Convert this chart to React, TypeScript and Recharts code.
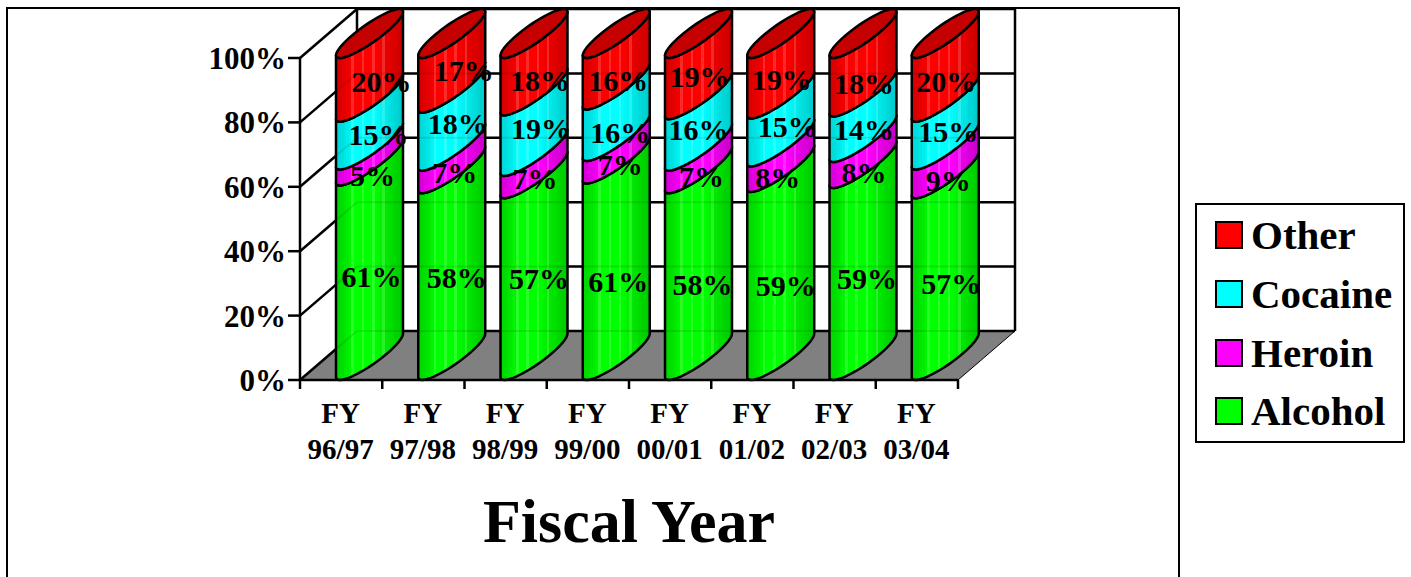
import {
  BarChart,
  Bar,
  XAxis,
  YAxis,
  CartesianGrid,
  Legend,
  LabelList,
  Label,
  ReferenceLine,
} from "recharts";

const YEARS = ["FY 96/97", "FY 97/98", "FY 98/99", "FY 99/00", "FY 00/01", "FY 01/02", "FY 02/03", "FY 03/04"];
const ALCOHOL = [61, 58, 57, 61, 58, 59, 59, 57];
const HEROIN = [5, 7, 7, 7, 7, 8, 8, 9];
const COCAINE = [15, 18, 19, 16, 16, 15, 14, 15];
const OTHER = [20, 17, 18, 16, 19, 19, 18, 20];
const Y_TICKS = [0, 0.2, 0.4, 0.6, 0.8, 1];
const LEGEND_ORDER = ["Other", "Cocaine", "Heroin", "Alcohol"];

const chartData = YEARS.map((name, i) => ({
  name,
  Alcohol: ALCOHOL[i],
  Heroin: HEROIN[i],
  Cocaine: COCAINE[i],
  Other: OTHER[i],
}));

// layout of the fake 3D box
const PLOT = { left: 300, top: 58, width: 658, height: 322 };
const DEPTH_X = 57;
const DEPTH_Y = 49;
const BAND = PLOT.width / YEARS.length;
const SKEW = (27 * Math.PI) / 180;
const LINE = 2.5;
const FONT = "'Liberation Serif', 'Times New Roman', serif";

const SERIES_RGB: Record<string, [number, number, number]> = {
  Alcohol: [0, 255, 0],
  Heroin: [255, 0, 255],
  Cocaine: [0, 255, 255],
  Other: [255, 0, 0],
};

// brightness of the vertical facets, left to right
const FACETS = [
  0.84, 0.86, 0.88, 0.9, 0.93, 0.96, 0.98, 1, 1, 1, 1, 1, 1, 1, 1, 0.99, 0.97, 0.95, 0.93, 0.91, 0.89, 0.87, 0.85,
  0.83, 0.81, 0.79,
];

// label offsets from the middle of each segment, picked by eye [dx, dy]
const NUDGE: Record<string, [number, number][]> = {
  Alcohol: [[2, -6], [5, -9], [5, -11], [2, 0], [4, -2], [5, 0], [4, -6], [6, -6]],
  Heroin: [[3, -2], [3, -9], [1, -9], [4, -8], [3, -5], [-3, -2], [1, -3], [3, -3]],
  Cocaine: [[9, -11], [6, -18], [7, -17], [4, -3], [0, -15], [7, -16], [1, -10], [3, -14]],
  Other: [[12, -8], [12, -15], [6, -6], [2, -3], [1, -12], [1, -9], [1, -4], [1, -8]],
};

function facetColor(rgb: number[], shade: number, light: boolean) {
  const mix = light ? 0.16 : 0;
  const [r, g, b] = rgb.map((c) => Math.round(c * shade + (255 - c * shade) * mix));
  return `rgb(${r},${g},${b})`;
}

function FacetGradient({ name }: { name: string }) {
  const rgb = SERIES_RGB[name];
  const n = FACETS.length;
  return (
    <linearGradient id={`facet-${name}`} x1="0" y1="0" x2="1" y2="0">
      {FACETS.flatMap((shade, i) => {
        const light = i % 4 === 2 && i > 4 && i < 20;
        const color = facetColor(rgb, shade, light);
        return [
          <stop key={`${i}a`} offset={i / n} stopColor={color} />,
          <stop key={`${i}b`} offset={(i + 1) / n} stopColor={color} />,
        ];
      })}
    </linearGradient>
  );
}

// one edge of the sheared ellipse, sampled from angle a to angle b
function rimPoints(x: number, width: number, yFront: number, a: number, b: number) {
  const halfW = (width + DEPTH_X) / 2;
  const halfH = DEPTH_Y / 2;
  const cx = x + halfW;
  const pts: string[] = [];
  for (let i = 0; i <= 28; i++) {
    const t = a + ((b - a) * i) / 28;
    const px = cx - halfW * Math.cos(t);
    const py = yFront - halfH + halfH * Math.cos(t - SKEW);
    pts.push(`${px.toFixed(2)} ${py.toFixed(2)}`);
  }
  return pts;
}

function CylinderSegment(props: any) {
  const { x, y, width, height, name, capped } = props;
  const lower = rimPoints(x, width, y + height, 0, Math.PI);
  const upper = rimPoints(x, width, y, Math.PI, 0);
  const body = `M${lower.join("L")}L${upper.join("L")}Z`;
  const capBack = rimPoints(x, width, y, Math.PI, 2 * Math.PI);
  const cap = `M${rimPoints(x, width, y, 0, Math.PI).join("L")}L${capBack.join("L")}Z`;
  return (
    <g>
      <path d={body} fill={`url(#facet-${name})`} stroke="#000" strokeWidth={LINE} strokeLinejoin="round" />
      {capped && <path d={cap} fill="#c40000" stroke="#000" strokeWidth={LINE} strokeLinejoin="round" />}
    </g>
  );
}

function segmentLabel(name: string, values: number[]) {
  return (props: any) => {
    const { x, y, width, height, index } = props;
    const [dx, dy] = NUDGE[name][index];
    return (
      <text
        x={x + (width + DEPTH_X) / 2 + dx}
        y={y + height / 2 + dy}
        textAnchor="middle"
        dominantBaseline="central"
        fontFamily={FONT}
        fontWeight="bold"
        fontSize={30}
        fill="#000"
      >
        {values[index]}%
      </text>
    );
  };
}

function WallLine(props: any) {
  const { x1, y1, x2, y2 } = props;
  const isFloor = Math.abs(y1 - (PLOT.top + PLOT.height)) < 1;
  const backY = y1 - DEPTH_Y;
  return (
    <g>
      {isFloor && (
        <g>
          <polygon
            points={`${x1},${y1} ${x2},${y1} ${x2 + DEPTH_X},${backY} ${x1 + DEPTH_X},${backY}`}
            fill="#808080"
            stroke="#000"
            strokeWidth={1}
          />
          <line x1={x1 + DEPTH_X} y1={backY} x2={x1 + DEPTH_X} y2={PLOT.top - DEPTH_Y} stroke="#000" strokeWidth={LINE} />
          <line x1={x2 + DEPTH_X} y1={backY} x2={x2 + DEPTH_X} y2={PLOT.top - DEPTH_Y} stroke="#000" strokeWidth={LINE} />
        </g>
      )}
      <line x1={x1} y1={y1} x2={x1 + DEPTH_X} y2={backY} stroke="#000" strokeWidth={LINE} />
      <line x1={x1 + DEPTH_X} y1={backY} x2={x2 + DEPTH_X} y2={y2 - DEPTH_Y} stroke="#000" strokeWidth={LINE} />
    </g>
  );
}

// the gridlines show very faintly through the cylinders in the original
function GhostLine(props: any) {
  const { x1, y1, x2, y2 } = props;
  const backY = y1 - DEPTH_Y;
  return (
    <g stroke="#000" strokeOpacity={0.1} strokeWidth={2}>
      <line x1={x1} y1={y1} x2={x1 + DEPTH_X} y2={backY} />
      <line x1={x1 + DEPTH_X} y1={backY} x2={x2 + DEPTH_X} y2={y2 - DEPTH_Y} />
    </g>
  );
}

function YearTick(props: any) {
  const { x, payload, index } = props;
  const [fy, span] = String(payload.value).split(" ");
  const left = x - BAND / 2;
  const tickTop = PLOT.top + PLOT.height;
  return (
    <g>
      <line x1={left} y1={tickTop} x2={left} y2={tickTop + 9} stroke="#000" strokeWidth={LINE} />
      {index === YEARS.length - 1 && (
        <line x1={left + BAND} y1={tickTop} x2={left + BAND} y2={tickTop + 9} stroke="#000" strokeWidth={LINE} />
      )}
      <text textAnchor="middle" fontFamily={FONT} fontWeight="bold" fontSize={29} fill="#000">
        <tspan x={x - 0.5} y={tickTop + 43}>{fy}</tspan>
        <tspan x={x - 0.5} y={tickTop + 79}>{span}</tspan>
      </text>
    </g>
  );
}

function LegendBox({ payload }: any) {
  const rows = LEGEND_ORDER.map((name) => (payload ?? []).find((row: any) => row.value === name)).filter(Boolean);
  return (
    <div
      style={{
        boxSizing: "border-box",
        width: 210,
        height: 240,
        border: "2px solid #000",
        background: "#fff",
        paddingTop: 1,
        fontFamily: FONT,
        fontWeight: "bold",
        fontSize: 41,
        color: "#000",
      }}
    >
      {rows.map((row: any) => {
        const rgb = SERIES_RGB[row.value];
        return (
          <div key={row.value} style={{ display: "flex", alignItems: "center", height: 58.7, paddingLeft: 18 }}>
            <span
              style={{
                boxSizing: "border-box",
                width: 28,
                height: 28,
                border: "2px solid #000",
                background: `rgb(${rgb.join(",")})`,
                marginRight: 8,
              }}
            />
            <span style={{ lineHeight: "46px" }}>{row.value}</span>
          </div>
        );
      })}
    </div>
  );
}

const axisFont = { fontFamily: FONT, fontWeight: "bold", fontSize: 31, fill: "#000" };

export default function App() {
  return (
    <div
      style={{
        position: "absolute",
        left: 0,
        top: 0,
        width: 1411,
        height: 577,
        overflow: "hidden",
        background: "#fff",
      }}
    >
      <div
        style={{
          position: "absolute",
          left: 6,
          top: 7,
          width: 1170,
          height: 620,
          border: "2px solid #000",
        }}
      />
      <div style={{ position: "absolute", left: 0, top: 0 }}>
        <BarChart
          width={1411}
          height={577}
          data={chartData}
          stackOffset="expand"
          barSize={10}
          margin={{ top: PLOT.top, right: 1411 - PLOT.left - PLOT.width, left: PLOT.left - 60, bottom: 17 }}
        >
          <defs>
            {Object.keys(SERIES_RGB).map((name) => (
              <FacetGradient key={name} name={name} />
            ))}
          </defs>
          <CartesianGrid vertical={false} horizontal={(p: any) => <WallLine key={p.key} {...p} />} />
          <XAxis
            dataKey="name"
            height={180}
            axisLine={{ stroke: "#000", strokeWidth: LINE }}
            tickLine={false}
            interval={0}
            tick={(p: any) => <YearTick {...p} />}
          >
            <Label
              value="Fiscal Year"
              position="insideBottom"
              offset={18}
              style={{ fontFamily: FONT, fontWeight: "bold", fontSize: 62, fill: "#000" }}
            />
          </XAxis>
          <YAxis
            width={60}
            domain={[0, 1]}
            ticks={Y_TICKS}
            tickFormatter={(v: number) => `${Math.round(v * 100)}%`}
            axisLine={{ stroke: "#000", strokeWidth: LINE }}
            tickLine={{ stroke: "#000", strokeWidth: LINE }}
            tickSize={12}
            tickMargin={2}
            tick={axisFont}
          />
          <Legend
            layout="vertical"
            align="center"
            verticalAlign="middle"
            content={<LegendBox />}
            wrapperStyle={{ left: 1195, top: 203, width: 210, height: 240, margin: 0 }}
          />
          <Bar dataKey="Alcohol" stackId="a" fill="#00ff00" isAnimationActive={false}
            shape={(p: any) => <CylinderSegment {...p} name="Alcohol" />}>
            <LabelList content={segmentLabel("Alcohol", ALCOHOL)} />
          </Bar>
          <Bar dataKey="Heroin" stackId="a" fill="#ff00ff" isAnimationActive={false}
            shape={(p: any) => <CylinderSegment {...p} name="Heroin" />}>
            <LabelList content={segmentLabel("Heroin", HEROIN)} />
          </Bar>
          <Bar dataKey="Cocaine" stackId="a" fill="#00ffff" isAnimationActive={false}
            shape={(p: any) => <CylinderSegment {...p} name="Cocaine" />}>
            <LabelList content={segmentLabel("Cocaine", COCAINE)} />
          </Bar>
          <Bar dataKey="Other" stackId="a" fill="#ff0000" isAnimationActive={false}
            shape={(p: any) => <CylinderSegment {...p} name="Other" capped />}>
            <LabelList content={segmentLabel("Other", OTHER)} />
          </Bar>
          {Y_TICKS.map((v) => (
            <ReferenceLine key={v} y={v} shape={(p: any) => <GhostLine {...p} />} />
          ))}
        </BarChart>
      </div>
    </div>
  );
}
